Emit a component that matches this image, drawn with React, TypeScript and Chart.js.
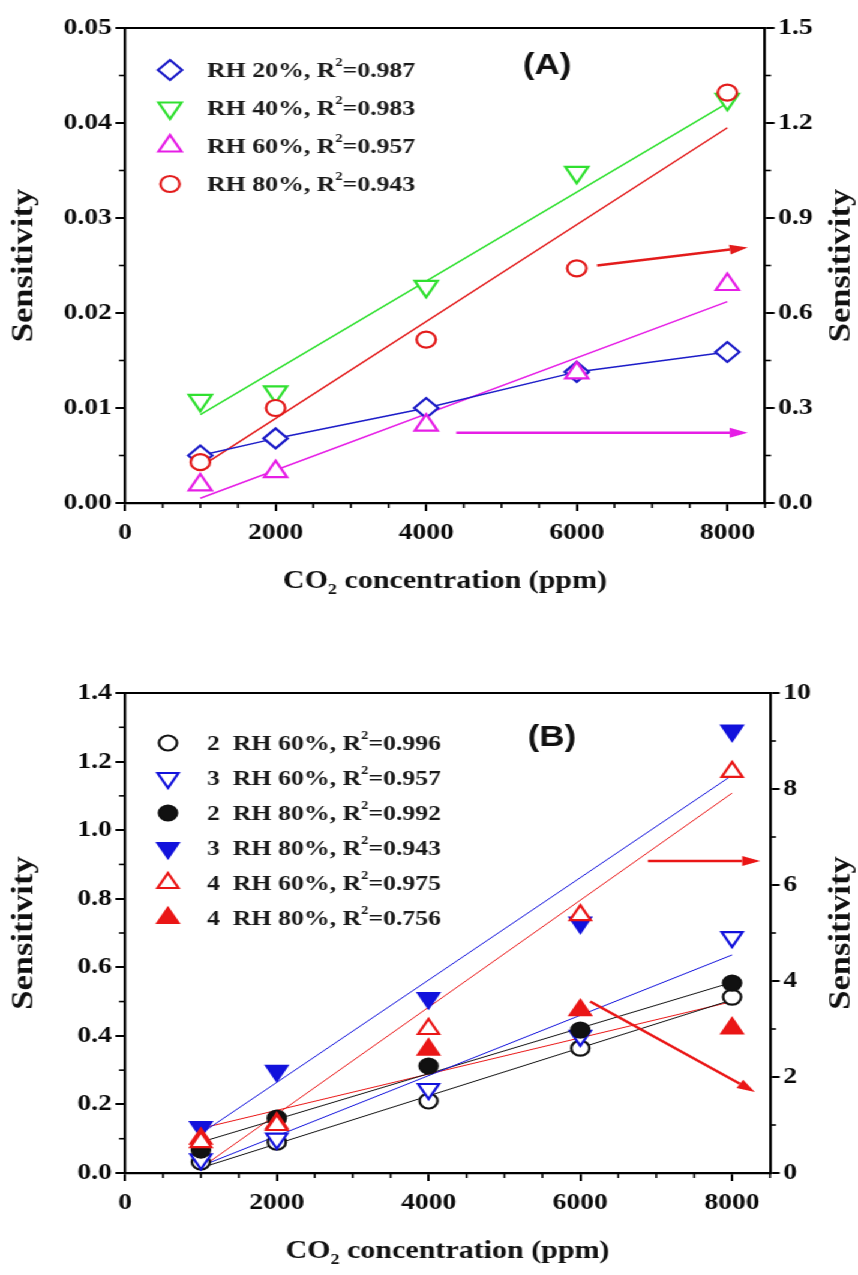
import React, { useEffect, useRef } from 'react';
import { Chart, registerables } from 'chart.js';
Chart.register(...registerables);

const STRETCH = 1.2;
const W = 715;
const SERIF = '"Liberation Serif", "Times New Roman", serif';
const SANS = '"Liberation Sans", Arial, sans-serif';

// ---------- shared
const concentrations = [1000, 2000, 4000, 6000, 8000];
const xTickValues = [0, 2000, 4000, 6000, 8000];
const fitX = [1000, 8000];

// ---------- Panel A (left axis values)
const aRH20 = [0.005, 0.0068, 0.01, 0.0138, 0.0159];
const aRH40 = [0.0108, 0.0117, 0.0228, 0.0348, 0.0425];
const aRH60 = [0.0019, 0.0033, 0.0082, 0.0137, 0.023];
const aRH80 = [0.0043, 0.01, 0.0172, 0.0247, 0.0432];
const aFit40 = [0.0093, 0.0421];
const aFit60 = [0.0005, 0.0212];
const aFit80 = [0.0038, 0.0395];
const aLabels = ['RH 20%', 'RH 40%', 'RH 60%', 'RH 80%'];
const aR2 = ['0.987', '0.983', '0.957', '0.943'];
const aLeftTicks = [0, 0.01, 0.02, 0.03, 0.04, 0.05];
const aRightTicks = [0, 0.3, 0.6, 0.9, 1.2, 1.5];
const aArrowRed = [[6270, 0.025], [8270, 0.0269]];
const aArrowMagenta = [[4400, 0.0074], [8270, 0.0074]];

// ---------- Panel B (left axis values)
const b2RH60 = [0.032, 0.09, 0.21, 0.364, 0.513];
const b3RH60 = [0.04, 0.1, 0.245, 0.4, 0.688];
const b2RH80 = [0.067, 0.16, 0.312, 0.417, 0.554];
const b3RH80 = [0.134, 0.298, 0.51, 0.73, 1.29];
const b4RH60 = [0.09, 0.14, 0.42, 0.752, 1.17];
const b4RH80 = [0.1, 0.145, 0.36, 0.475, 0.422];
const bFit2RH60 = [0.015, 0.505];
const bFit3RH60 = [0.02, 0.636];
const bFit2RH80 = [0.09, 0.556];
const bFit3RH80 = [0.115, 1.16];
const bFit4RH60 = [0.015, 1.108];
const bFit4RH80 = [0.13, 0.5];
const bLabels = ['2  RH 60%', '3  RH 60%', '2  RH 80%', '3  RH 80%', '4  RH 60%', '4  RH 80%'];
const bR2 = ['0.996', '0.957', '0.992', '0.943', '0.975', '0.756'];
const bLeftTicks = [0, 0.2, 0.4, 0.6, 0.8, 1.0, 1.2, 1.4];
const bRightTicks = [0, 2, 4, 6, 8, 10];
const bArrowFlat = [[6890, 0.91], [8370, 0.91]];
const bArrowDown = [[6130, 0.5], [8300, 0.236]];

// ---------- colours
const A_BLUE = '#1c1cc8';
const A_GREEN = '#2fe02f';
const A_MAGENTA = '#e61ee6';
const A_RED = '#e31b1b';
const B_BLACK = '#111111';
const B_BLUE = '#1212dc';
const B_RED = '#ea1616';

type Mk = { style: string; rot: number; color: string; filled: boolean; r: number };

const toPts = (xs: number[], ys: number[]) => xs.map((x, i) => ({ x, y: ys[i] }));

function markerSet(ys: number[], mk: Mk, order: number, showLine = false, lw = 1.5) {
  return {
    type: 'scatter',
    data: toPts(concentrations, ys),
    yAxisID: 'y',
    order,
    showLine,
    borderColor: mk.color,
    borderWidth: lw,
    pointStyle: mk.style,
    rotation: mk.rot,
    pointRadius: mk.r,
    pointBorderWidth: 2.2,
    pointBorderColor: mk.color,
    pointBackgroundColor: mk.filled ? mk.color : '#ffffff',
  };
}

function fitSet(ys: number[], color: string, lw: number) {
  return {
    type: 'scatter',
    data: toPts(fitX, ys),
    yAxisID: 'y',
    order: 20,
    showLine: true,
    borderColor: color,
    borderWidth: lw,
    pointRadius: 0,
  };
}

function drawMarker(ctx: CanvasRenderingContext2D, mk: Mk, x: number, y: number) {
  const r = mk.r;
  ctx.save();
  ctx.beginPath();
  if (mk.style === 'circle') {
    ctx.arc(x, y, r, 0, Math.PI * 2);
  } else if (mk.style === 'rectRot') {
    ctx.moveTo(x, y - r);
    ctx.lineTo(x + r, y);
    ctx.lineTo(x, y + r);
    ctx.lineTo(x - r, y);
    ctx.closePath();
  } else {
    let a = (mk.rot * Math.PI) / 180;
    for (let i = 0; i < 3; i++) {
      const px = x + Math.sin(a) * r;
      const py = y - Math.cos(a) * r;
      if (i === 0) ctx.moveTo(px, py);
      else ctx.lineTo(px, py);
      a += (2 * Math.PI) / 3;
    }
    ctx.closePath();
  }
  ctx.fillStyle = mk.filled ? mk.color : '#ffffff';
  ctx.fill();
  ctx.lineWidth = 2.2;
  ctx.strokeStyle = mk.color;
  ctx.stroke();
  ctx.restore();
}

function drawArrow(ctx: CanvasRenderingContext2D, x1: number, y1: number, x2: number, y2: number, color: string) {
  const ang = Math.atan2(y2 - y1, x2 - x1);
  const head = 15;
  const hw = 5;
  const bx = x2 - head * Math.cos(ang);
  const by = y2 - head * Math.sin(ang);
  ctx.save();
  ctx.strokeStyle = color;
  ctx.fillStyle = color;
  ctx.lineWidth = 2.5;
  ctx.beginPath();
  ctx.moveTo(x1, y1);
  ctx.lineTo(bx, by);
  ctx.stroke();
  ctx.beginPath();
  ctx.moveTo(x2, y2);
  ctx.lineTo(bx + hw * Math.sin(ang), by - hw * Math.cos(ang));
  ctx.lineTo(bx - hw * Math.sin(ang), by + hw * Math.cos(ang));
  ctx.closePath();
  ctx.fill();
  ctx.restore();
}

interface PanelSpec {
  height: number;
  top: number;
  bottom: number;
  right: number;
  yMax: number;
  yTicks: number[];
  yDec: number;
  yMinor: number;
  y2Max: number;
  y2Ticks: number[];
  y2Dec: number;
  y2Minor: number;
  datasets: any[];
  legend: { label: string; r2: string; mk: Mk }[];
  legendX: number;
  legendTextX: number;
  legendY0: number;
  legendDY: number;
  arrows: { pts: number[][]; color: string }[];
  label: string;
  labelX: number;
  labelY: number;
  xTitleY: number;
}

function buildConfig(s: PanelSpec) {
  const tickFont = { family: SERIF, size: 23, weight: 'bold' as const };
  const grid = { drawOnChartArea: false, drawTicks: true, tickLength: 8, color: '#000', lineWidth: 2 };
  const border = { display: true, color: '#000', width: 2.2 };
  const decor = {
    id: 'decor',
    afterDraw(chart: any) {
      const { ctx, chartArea: ca, scales } = chart;
      const sx = scales.x;
      const sy = scales.y;
      const sy2 = scales.y2;
      ctx.save();
      ctx.strokeStyle = '#000';
      ctx.lineWidth = 2.2;
      ctx.beginPath();
      ctx.moveTo(ca.left, ca.top);
      ctx.lineTo(ca.right, ca.top);
      ctx.stroke();
      // minor ticks
      ctx.lineWidth = 1.6;
      for (let i = 0; i * 500 <= 8500; i++) {
        if (i % 4 === 0) continue;
        const px = sx.getPixelForValue(i * 500);
        ctx.beginPath();
        ctx.moveTo(px, ca.bottom);
        ctx.lineTo(px, ca.bottom + 5);
        ctx.stroke();
      }
      for (let i = 1; i * s.yMinor <= s.yMax + 1e-9; i += 2) {
        const py = sy.getPixelForValue(i * s.yMinor);
        ctx.beginPath();
        ctx.moveTo(ca.left, py);
        ctx.lineTo(ca.left - 5, py);
        ctx.stroke();
      }
      for (let i = 1; i * s.y2Minor <= s.y2Max + 1e-9; i += 2) {
        const py = sy2.getPixelForValue(i * s.y2Minor);
        ctx.beginPath();
        ctx.moveTo(ca.right, py);
        ctx.lineTo(ca.right + 5, py);
        ctx.stroke();
      }
      // arrows
      for (const a of s.arrows) {
        drawArrow(
          ctx,
          sx.getPixelForValue(a.pts[0][0]),
          sy.getPixelForValue(a.pts[0][1]),
          sx.getPixelForValue(a.pts[1][0]),
          sy.getPixelForValue(a.pts[1][1]),
          a.color
        );
      }
      // legend
      s.legend.forEach((it, i) => {
        const yy = s.legendY0 + i * s.legendDY;
        drawMarker(ctx, it.mk, s.legendX, yy);
        ctx.fillStyle = '#1a1a1a';
        ctx.textBaseline = 'middle';
        ctx.textAlign = 'left';
        let tx = s.legendTextX;
        ctx.font = `bold 21.5px ${SERIF}`;
        const main = `${it.label}, R`;
        ctx.fillText(main, tx, yy + 1);
        tx += ctx.measureText(main).width;
        ctx.font = `bold 12px ${SERIF}`;
        ctx.fillText('2', tx, yy - 7);
        tx += ctx.measureText('2').width;
        ctx.font = `bold 21.5px ${SERIF}`;
        ctx.fillText(`=${it.r2}`, tx, yy + 1);
      });
      // panel label
      ctx.font = `bold 29px ${SANS}`;
      ctx.fillStyle = '#111';
      ctx.textAlign = 'center';
      ctx.textBaseline = 'middle';
      ctx.fillText(s.label, s.labelX, s.labelY);
      // axis titles (rotated, elongated along text direction)
      ctx.font = `bold 25px ${SERIF}`;
      const cy = (ca.top + ca.bottom) / 2;
      for (const tx of [21, 702]) {
        ctx.save();
        ctx.translate(tx, cy);
        ctx.rotate(-Math.PI / 2);
        ctx.scale(1.38, 1);
        ctx.textAlign = 'center';
        ctx.textBaseline = 'middle';
        ctx.fillText('Sensitivity', 0, 0);
        ctx.restore();
      }
      const p1 = 'CO';
      const p2 = '2';
      const p3 = ' concentration (ppm)';
      ctx.font = `bold 25px ${SERIF}`;
      const w1 = ctx.measureText(p1).width;
      const w3 = ctx.measureText(p3).width;
      ctx.font = `bold 15px ${SERIF}`;
      const w2 = ctx.measureText(p2).width;
      let xx = (ca.left + ca.right) / 2 - (w1 + w2 + w3) / 2;
      ctx.textAlign = 'left';
      ctx.textBaseline = 'alphabetic';
      ctx.font = `bold 25px ${SERIF}`;
      ctx.fillText(p1, xx, s.xTitleY);
      xx += w1;
      ctx.font = `bold 15px ${SERIF}`;
      ctx.fillText(p2, xx, s.xTitleY + 6);
      xx += w2;
      ctx.font = `bold 25px ${SERIF}`;
      ctx.fillText(p3, xx, s.xTitleY);
      ctx.restore();
    },
  };

  return {
    type: 'scatter',
    data: { datasets: s.datasets },
    plugins: [decor],
    options: {
      responsive: false,
      animation: false,
      devicePixelRatio: 1,
      layout: { padding: { top: s.top, left: 0, right: 0, bottom: 0 } },
      plugins: { legend: { display: false }, tooltip: { enabled: false }, title: { display: false } },
      scales: {
        x: {
          type: 'linear',
          min: 0,
          max: 8500,
          afterBuildTicks: (sc: any) => {
            sc.ticks = xTickValues.map((v) => ({ value: v }));
          },
          afterFit: (sc: any) => {
            sc.height = s.height - s.bottom;
          },
          ticks: { font: tickFont, color: '#0a0a0a', padding: 8, maxRotation: 0, callback: (v: any) => String(v) },
          grid,
          border,
        },
        y: {
          type: 'linear',
          position: 'left',
          min: 0,
          max: s.yMax,
          afterBuildTicks: (sc: any) => {
            sc.ticks = s.yTicks.map((v) => ({ value: v }));
          },
          afterFit: (sc: any) => {
            sc.width = 104.2;
          },
          ticks: { font: tickFont, color: '#0a0a0a', padding: 3, callback: (v: any) => Number(v).toFixed(s.yDec) },
          grid,
          border,
        },
        y2: {
          type: 'linear',
          position: 'right',
          display: true,
          min: 0,
          max: s.y2Max,
          afterBuildTicks: (sc: any) => {
            sc.ticks = s.y2Ticks.map((v) => ({ value: v }));
          },
          afterFit: (sc: any) => {
            sc.width = W - s.right;
          },
          ticks: { font: tickFont, color: '#0a0a0a', padding: 3, callback: (v: any) => Number(v).toFixed(s.y2Dec) },
          grid,
          border,
        },
      },
    },
  } as any;
}

const mkA = {
  rh20: { style: 'rectRot', rot: 0, color: A_BLUE, filled: false, r: 10 },
  rh40: { style: 'triangle', rot: 180, color: A_GREEN, filled: false, r: 11 },
  rh60: { style: 'triangle', rot: 0, color: A_MAGENTA, filled: false, r: 11 },
  rh80: { style: 'circle', rot: 0, color: A_RED, filled: false, r: 8 },
};

const mkB = {
  o2_60: { style: 'circle', rot: 0, color: B_BLACK, filled: false, r: 7.5 },
  o3_60: { style: 'triangle', rot: 180, color: B_BLUE, filled: false, r: 10 },
  o2_80: { style: 'circle', rot: 0, color: B_BLACK, filled: true, r: 7.5 },
  o3_80: { style: 'triangle', rot: 180, color: B_BLUE, filled: true, r: 10 },
  o4_60: { style: 'triangle', rot: 0, color: B_RED, filled: false, r: 10 },
  o4_80: { style: 'triangle', rot: 0, color: B_RED, filled: true, r: 10 },
};

const specA: PanelSpec = {
  height: 620,
  top: 28,
  bottom: 503,
  right: 637.5,
  yMax: 0.05,
  yTicks: aLeftTicks,
  yDec: 2,
  yMinor: 0.005,
  y2Max: 1.5,
  y2Ticks: aRightTicks,
  y2Dec: 1,
  y2Minor: 0.15,
  datasets: [
    markerSet(aRH80, mkA.rh80, 1),
    markerSet(aRH60, mkA.rh60, 2),
    markerSet(aRH40, mkA.rh40, 3),
    markerSet(aRH20, mkA.rh20, 4, true, 1.5),
    fitSet(aFit40, A_GREEN, 1.5),
    fitSet(aFit60, A_MAGENTA, 1.5),
    fitSet(aFit80, A_RED, 1.5),
  ],
  legend: [
    { label: aLabels[0], r2: aR2[0], mk: mkA.rh20 },
    { label: aLabels[1], r2: aR2[1], mk: mkA.rh40 },
    { label: aLabels[2], r2: aR2[2], mk: mkA.rh60 },
    { label: aLabels[3], r2: aR2[3], mk: mkA.rh80 },
  ],
  legendX: 141.7,
  legendTextX: 172.5,
  legendY0: 70,
  legendDY: 38,
  arrows: [
    { pts: aArrowRed, color: A_RED },
    { pts: aArrowMagenta, color: A_MAGENTA },
  ],
  label: '(A)',
  labelX: 456,
  labelY: 66,
  xTitleY: 588,
};

const specB: PanelSpec = {
  height: 635,
  top: 53,
  bottom: 533,
  right: 641.7,
  yMax: 1.4,
  yTicks: bLeftTicks,
  yDec: 1,
  yMinor: 0.1,
  y2Max: 10,
  y2Ticks: bRightTicks,
  y2Dec: 0,
  y2Minor: 1,
  datasets: [
    markerSet(b4RH60, mkB.o4_60, 1),
    markerSet(b4RH80, mkB.o4_80, 2),
    markerSet(b3RH80, mkB.o3_80, 3),
    markerSet(b2RH80, mkB.o2_80, 4),
    markerSet(b3RH60, mkB.o3_60, 5),
    markerSet(b2RH60, mkB.o2_60, 6),
    fitSet(bFit2RH60, B_BLACK, 1),
    fitSet(bFit3RH60, B_BLUE, 1),
    fitSet(bFit2RH80, B_BLACK, 1),
    fitSet(bFit3RH80, B_BLUE, 1),
    fitSet(bFit4RH60, B_RED, 1),
    fitSet(bFit4RH80, B_RED, 1),
  ],
  legend: [
    { label: bLabels[0], r2: bR2[0], mk: mkB.o2_60 },
    { label: bLabels[1], r2: bR2[1], mk: mkB.o3_60 },
    { label: bLabels[2], r2: bR2[2], mk: mkB.o2_80 },
    { label: bLabels[3], r2: bR2[3], mk: mkB.o3_80 },
    { label: bLabels[4], r2: bR2[4], mk: mkB.o4_60 },
    { label: bLabels[5], r2: bR2[5], mk: mkB.o4_80 },
  ],
  legendX: 140,
  legendTextX: 172.5,
  legendY0: 103,
  legendDY: 35,
  arrows: [
    { pts: bArrowFlat, color: B_RED },
    { pts: bArrowDown, color: B_RED },
  ],
  label: '(B)',
  labelX: 460,
  labelY: 98,
  xTitleY: 618,
};

export default function App() {
  const refA = useRef<HTMLCanvasElement>(null);
  const refB = useRef<HTMLCanvasElement>(null);
  useEffect(() => {
    const cA = new Chart(refA.current as HTMLCanvasElement, buildConfig(specA));
    const cB = new Chart(refB.current as HTMLCanvasElement, buildConfig(specB));
    return () => {
      cA.destroy();
      cB.destroy();
    };
  }, []);
  return (
    <div style={{ position: 'absolute', left: 0, top: 0, width: 858, height: 1275, overflow: 'hidden', background: '#fff' }}>
      <div style={{ position: 'relative', width: W, height: 1275, transform: `scaleX(${STRETCH})`, transformOrigin: '0 0' }}>
        <canvas ref={refA} width={W} height={specA.height} style={{ position: 'absolute', left: 0, top: 0 }} />
        <canvas ref={refB} width={W} height={specB.height} style={{ position: 'absolute', left: 0, top: 640 }} />
      </div>
    </div>
  );
}
